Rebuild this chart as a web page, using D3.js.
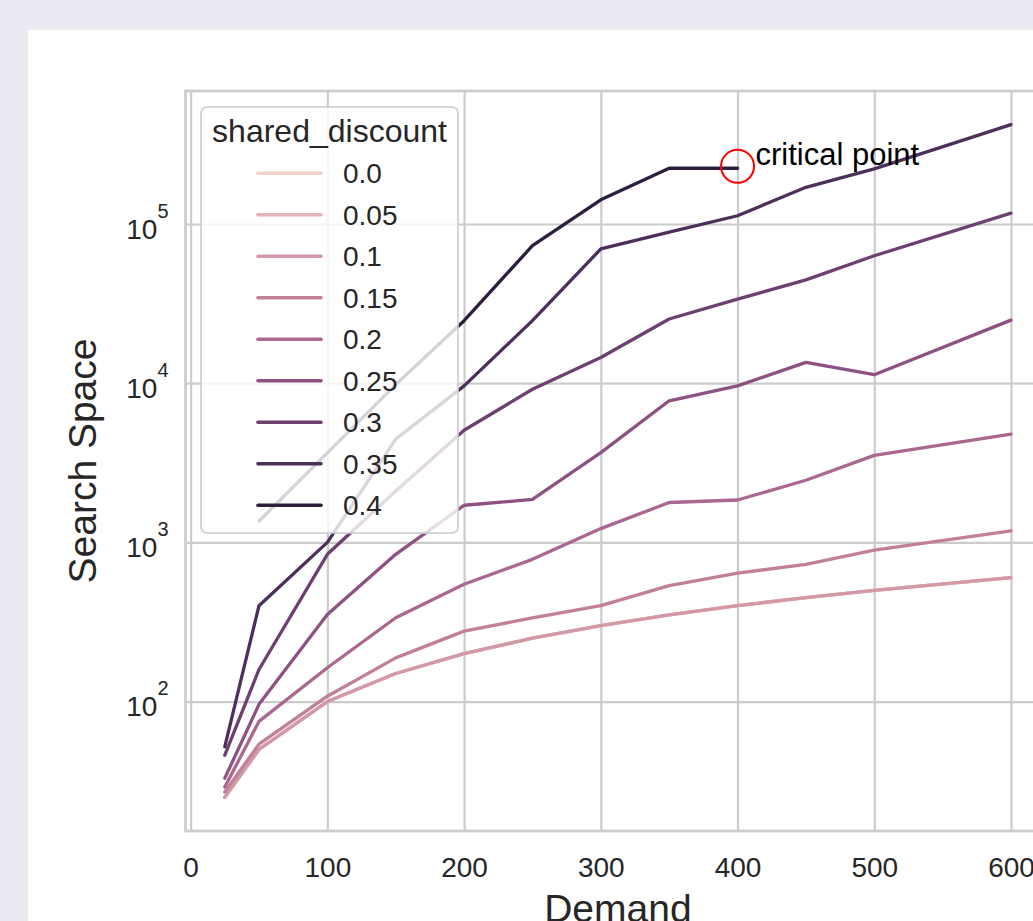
<!DOCTYPE html>
<html>
<head>
<meta charset="utf-8">
<script src="https://cdn.jsdelivr.net/npm/d3@7"></script>
<style>
  body { margin: 0; background: #eaeaf2; }
  svg { display: block; font-family: "Liberation Sans", Arial, sans-serif; }
</style>
</head>
<body>
<div id="graphContainer"></div>
<script>
// data
const demand = [25, 50, 100, 150, 200, 250, 300, 350, 400, 450, 500, 600];
const discounts = [0.0, 0.05, 0.1, 0.15, 0.2, 0.25, 0.3, 0.35, 0.4];
const s000 = [25, 50, 100, 150, 200, 250, 300, 350, 400, 450, 500, 600];
const s005 = [25, 50, 100, 150, 200, 250, 300, 350, 400, 450, 500, 600];
const s010 = [25, 50, 100, 150, 200, 250, 300, 350, 400, 450, 500, 600];
const s015 = [27, 54, 108, 188, 277, 335, 400, 535, 640, 728, 895, 1180];
const s020 = [29, 75, 163, 336, 545, 782, 1220, 1780, 1845, 2455, 3520, 4780];
const s025 = [33, 96, 352, 841, 1710, 1860, 3660, 7750, 9620, 13500, 11300, 24900];
const s030 = [46, 159, 841, 2100, 5060, 9160, 14500, 25300, 33700, 44600, 63200, 117000];
const s035 = [52, 400, 1000, 4450, 9620, 24700, 69700, 89000, 112700, 170000, 222000, 421000];
const s040 = [null, 1360, 3650, 9800, 24700, 73100, 142000, 224000, 224000, null, null, null];
const allSeries = [s000, s005, s010, s015, s020, s025, s030, s035, s040];

const xTicks = [0, 100, 200, 300, 400, 500, 600];
const yTicks = [100, 1000, 10000, 100000];

const W = 1033, H = 921;
const box = { left: 185.5, right: 1050.3, top: 91, bottom: 831 };

// seaborn default cubehelix palette (start 0, rot .4, hue .8, light .85, dark .15)
function cubehelix(v) {
    let t = v / 0.4;
    let x = 0.85 - 0.7 * t;
    let a = 0.8 * x * (1 - x) / 2;
    let phi = 2 * Math.PI * (0.4 * x);
    let c = Math.cos(phi), s = Math.sin(phi);
    let r = x + a * (-0.14861 * c + 1.78277 * s);
    let g = x + a * (-0.29227 * c - 0.90649 * s);
    let b = x + a * (1.97294 * c);
    let cl = k => Math.max(0, Math.min(255, Math.round(k * 255)));
    return d3.rgb(cl(r), cl(g), cl(b)).formatHex();
}

let svg = d3.select("#graphContainer").append("svg")
    .attr("width", W)
    .attr("height", H);

svg.append("rect").attr("width", W).attr("height", H).attr("fill", "#eaeaf2");
svg.append("rect").attr("x", 28).attr("y", 30).attr("width", W).attr("height", H).attr("fill", "#ffffff");

// scales with matplotlib style 5% margins
let xmin = d3.min(demand), xmax = d3.max(demand);
let xpad = (xmax - xmin) * 0.05;
let x = d3.scaleLinear().domain([xmin - xpad, xmax + xpad]).range([box.left, box.right]);

let vals = allSeries.flat().filter(v => v != null);
let lmin = Math.log10(d3.min(vals)), lmax = Math.log10(d3.max(vals));
let lpad = (lmax - lmin) * 0.05;
let y = d3.scaleLog().domain([Math.pow(10, lmin - lpad), Math.pow(10, lmax + lpad)]).range([box.bottom, box.top]);

// x axis + vertical grid
let gx = svg.append("g")
    .attr("transform", `translate(0,${box.bottom})`)
    .call(d3.axisBottom(x).tickValues(xTicks).tickSize(-(box.bottom - box.top)).tickPadding(26).tickFormat(d3.format("d")));
gx.select(".domain").remove();
gx.selectAll(".tick line").attr("stroke", "#cccccc").attr("stroke-width", 2.2);
gx.selectAll(".tick text").attr("fill", "#262626").style("font-size", "28px").style("font-family", "Liberation Sans, Arial, sans-serif");

// y axis + horizontal grid, labels as 10^n
let gy = svg.append("g")
    .attr("transform", `translate(${box.left},0)`)
    .call(d3.axisLeft(y).tickValues(yTicks).tickSize(-(box.right - box.left)).tickPadding(17));
gy.select(".domain").remove();
gy.selectAll(".tick line").attr("stroke", "#cccccc").attr("stroke-width", 2.2);
gy.selectAll(".tick text").each(function (d) {
    let t = d3.select(this).text("").attr("dy", null).attr("y", 14)
        .attr("fill", "#262626").style("font-family", "Liberation Sans, Arial, sans-serif");
    t.append("tspan").style("font-size", "28px").text("10");
    t.append("tspan").style("font-size", "20px").attr("dy", -21).text(Math.round(Math.log10(d)));
});

// lines
let line = d3.line()
    .defined(d => d[1] != null)
    .x(d => x(d[0]))
    .y(d => y(d[1]));

allSeries.forEach((s, i) => {
    svg.append("path")
        .datum(demand.map((dv, j) => [dv, s[j]]))
        .attr("d", line)
        .attr("fill", "none")
        .attr("stroke", cubehelix(discounts[i]))
        .attr("stroke-width", 3.3)
        .attr("stroke-linejoin", "round")
        .attr("stroke-linecap", "round");
});

// spines
svg.append("rect")
    .attr("x", box.left).attr("y", box.top)
    .attr("width", box.right - box.left).attr("height", box.bottom - box.top)
    .attr("fill", "none").attr("stroke", "#cccccc").attr("stroke-width", 2.75);

// axis labels
svg.append("text")
    .attr("x", (box.left + box.right) / 2).attr("y", 922)
    .attr("text-anchor", "middle").attr("fill", "#262626")
    .style("font-size", "39px").text("Demand");
svg.append("text")
    .attr("transform", `translate(96,${(box.top + box.bottom) / 2}) rotate(-90)`)
    .attr("text-anchor", "middle").attr("fill", "#262626")
    .style("font-size", "39px").text("Search Space");

// critical point
let cx = x(400), cy = y(s040[8]);
svg.append("circle")
    .attr("cx", cx).attr("cy", cy - 2).attr("r", 16.5)
    .attr("fill", "none").attr("stroke", "#ff0000").attr("stroke-width", 2);
svg.append("text")
    .attr("x", cx + 18).attr("y", cy - 3)
    .attr("fill", "#000000").style("font-size", "31px").text("critical point");

// legend
let lg = svg.append("g");
lg.append("rect")
    .attr("x", 201).attr("y", 107).attr("width", 257).attr("height", 426).attr("rx", 6)
    .attr("fill", "#ffffff").attr("fill-opacity", 0.8)
    .attr("stroke", "#cccccc").attr("stroke-opacity", 0.8).attr("stroke-width", 2);
lg.append("text")
    .attr("x", 329.5).attr("y", 142).attr("text-anchor", "middle").attr("fill", "#262626")
    .style("font-size", "32px").text("shared_discount");
discounts.forEach((dsc, i) => {
    let ry = 173.3 + i * 41.5;
    lg.append("line")
        .attr("x1", 258).attr("x2", 321).attr("y1", ry).attr("y2", ry)
        .attr("stroke", cubehelix(dsc)).attr("stroke-width", 3.6).attr("stroke-linecap", "round");
    lg.append("text")
        .attr("x", 343).attr("y", ry + 10).attr("fill", "#262626")
        .style("font-size", "28px").text(String(dsc === 0 ? "0.0" : dsc));
});
</script>
</body>
</html>
